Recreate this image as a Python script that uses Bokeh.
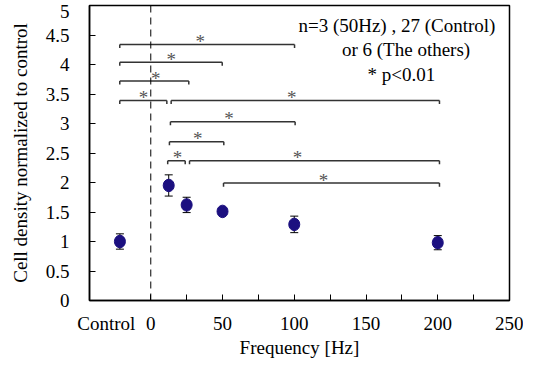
from bokeh.plotting import figure
from bokeh.models import (ColumnDataSource, FixedTicker, Span, Whisker, TeeHead,
                          Label, Range1d, CustomJSTickFormatter)
from bokeh.core.properties import value
from bokeh.embed import file_html
from bokeh.resources import INLINE

# ---- data ----
CONTROL_X = -21.5
point_x = [CONTROL_X, 12.5, 25, 50, 100, 200]
point_y = [1.00, 1.95, 1.62, 1.51, 1.29, 0.98]
point_err = [0.13, 0.18, 0.13, 0.05, 0.14, 0.12]

# significance brackets (left x, right x, level) and star positions
br_x0 = [-21.6, -21.6, -21.6, -21.6, 14.2, 13.7, 13.0, 11.8, 27.0, 50.7]
br_x1 = [100.2, 49.8, 26.5, 11.2, 201.2, 100.6, 50.9, 24.0, 201.2, 201.2]
br_y = [4.34, 4.04, 3.72, 3.39, 3.39, 3.03, 2.69, 2.37, 2.37, 1.99]
star_x = [34.4, 14.2, 3.5, -5.1, 98.3, 54.6, 32.8, 18.6, 102.2, 120.4]

x_tick_pos = [-31, 0, 50, 100, 150, 200, 250]
x_tick_lab = ["Control", "0", "50", "100", "150", "200", "250"]
x_minor = [0, 25, 50, 75, 100, 125, 150, 175, 200, 225, 250]
y_tick_pos = [0, 0.5, 1, 1.5, 2, 2.5, 3, 3.5, 4, 4.5, 4.905]
y_tick_lab = ["0", "0.5", "1", "1.5", "2", "2.5", "3", "3.5", "4", "4.5", "5"]
y_minor = [0, 0.5, 1, 1.5, 2, 2.5, 3, 3.5, 4, 4.5, 5]

x_title = "Frequency [Hz]"
y_title = "Cell density normalized to control"
note_lines = ["n=3 (50Hz) , 27 (Control)", "or 6 (The others)", "* p<0.01"]

FONT = "Liberation Serif"
AXFONT = "Times New Roman"
TICK = 0.06

LOOKUP = """
let best = 0, bd = Infinity;
for (let i = 0; i < pos.length; i++) {
  const d = Math.abs(pos[i] - tick);
  if (d < bd) { bd = d; best = i; }
}
return bd < 1e-6 ? lab[best] : "";
"""

p = figure(width=523, height=367, output_backend="svg", toolbar_location=None,
           x_range=Range1d(-42.7, 250), y_range=Range1d(0, 5),
           min_border_left=89, min_border_right=14, min_border_top=5,
           min_border_bottom=67)
p.grid.visible = False
p.outline_line_color = "black"
p.outline_line_width = 1.5
p.background_fill_color = "white"
p.border_fill_color = "white"

# axes
xa = p.xaxis[0]
xa.ticker = FixedTicker(ticks=x_tick_pos, minor_ticks=x_minor)
xa.formatter = CustomJSTickFormatter(args=dict(pos=x_tick_pos, lab=x_tick_lab), code=LOOKUP)
xa.major_tick_in = 0
xa.major_tick_out = 0
xa.minor_tick_in = 6
xa.minor_tick_out = 0
xa.minor_tick_line_color = "black"
xa.axis_line_width = 1.5
xa.axis_line_color = "black"
xa.major_label_standoff = 12
xa.major_label_text_font = AXFONT
xa.major_label_text_font_size = "19px"
xa.major_label_text_color = "black"
xa.axis_label = x_title
xa.axis_label_text_font = AXFONT
xa.axis_label_text_font_size = "19px"
xa.axis_label_text_font_style = "normal"
xa.axis_label_text_color = "black"
xa.axis_label_standoff = 0

ya = p.yaxis[0]
ya.ticker = FixedTicker(ticks=y_tick_pos, minor_ticks=y_minor)
ya.formatter = CustomJSTickFormatter(args=dict(pos=y_tick_pos, lab=y_tick_lab), code=LOOKUP)
ya.major_tick_in = 0
ya.major_tick_out = 0
ya.minor_tick_in = 6
ya.minor_tick_out = 0
ya.minor_tick_line_color = "black"
ya.axis_line_width = 1.5
ya.axis_line_color = "black"
ya.major_label_standoff = 20
ya.major_label_text_font = AXFONT
ya.major_label_text_font_size = "19px"
ya.major_label_text_color = "black"
ya.axis_label = y_title
ya.axis_label_text_font = AXFONT
ya.axis_label_text_font_size = "19px"
ya.axis_label_text_font_style = "normal"
ya.axis_label_text_color = "black"
ya.axis_label_standoff = 12

# dashed zero line
p.add_layout(Span(location=0, dimension="height", line_color="black",
                  line_width=1, line_dash="7 5"))

# brackets
n = len(br_y)
p.segment(x0=br_x0, y0=br_y, x1=br_x1, y1=br_y, line_color="#333333", line_width=1.5)
p.segment(x0=br_x0, y0=br_y, x1=br_x0, y1=[y - TICK for y in br_y],
          line_color="#333333", line_width=1.5)
p.segment(x0=br_x1, y0=br_y, x1=br_x1, y1=[y - TICK for y in br_y],
          line_color="#333333", line_width=1.5)
p.text(x=star_x, y=br_y, text=["*"] * n, text_font=value(FONT),
       text_font_size="19px", text_color="#555555", text_align="center",
       text_baseline="alphabetic", y_offset=-3)

# error bars and points
src = ColumnDataSource(dict(x=point_x, y=point_y,
                            lo=[y - e for y, e in zip(point_y, point_err)],
                            hi=[y + e for y, e in zip(point_y, point_err)]))
p.add_layout(Whisker(source=src, base="x", lower="lo", upper="hi",
                     line_color="black", line_width=1,
                     upper_head=TeeHead(size=8, line_color="black", line_width=1),
                     lower_head=TeeHead(size=8, line_color="black", line_width=1)))
p.ellipse(x="x", y="y", width=11, height=12.5, width_units="screen",
          height_units="screen", source=src, fill_color="#1c1080",
          line_color="#1c1080")

# note text
note_x = [102.9, 177.9, 174.7]
note_y = [4.66, 4.25, 3.83]
note_align = ["left", "center", "center"]
for t, x, y, a in zip(note_lines, note_x, note_y, note_align):
    p.add_layout(Label(x=x, y=y, text=t, text_font=FONT, text_font_size="19px",
                       text_color="black", text_align=a, text_baseline="middle"))

open("out.html", "w").write(file_html(p, INLINE))
